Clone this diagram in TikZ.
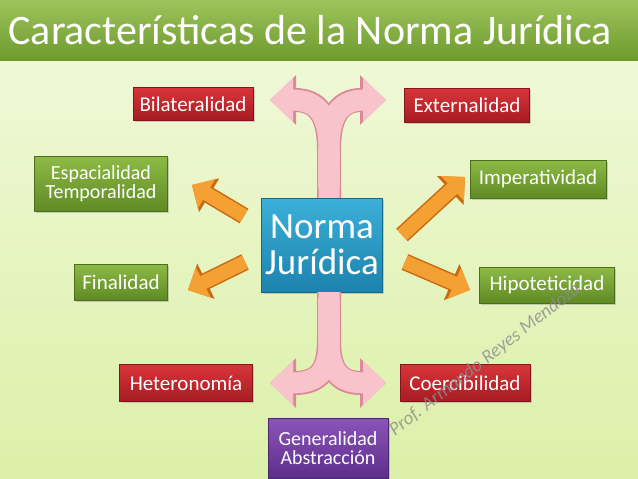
\documentclass[tikz,border=0pt]{standalone}
\usepackage{fontspec}
\setmainfont{Carlito}
\usetikzlibrary{arrows.meta,shadows}
\definecolor{bgA}{HTML}{F2F9DD}
\definecolor{bgB}{HTML}{DCF0A8}
\definecolor{titA}{HTML}{9CC45A}
\definecolor{titB}{HTML}{6E9A2E}
\definecolor{redA}{HTML}{D8353A}
\definecolor{redB}{HTML}{A51C22}
\definecolor{grnA}{HTML}{8DBA45}
\definecolor{grnB}{HTML}{5F8A24}
\definecolor{bluA}{HTML}{3BB0D8}
\definecolor{bluB}{HTML}{1C82AE}
\definecolor{purA}{HTML}{8A54B8}
\definecolor{purB}{HTML}{5E2E8C}
\definecolor{pinkF}{HTML}{F9C3CB}
\definecolor{pinkD}{HTML}{D98A96}
\definecolor{orA}{HTML}{F5A033}
\definecolor{orD}{HTML}{C86A10}
\tikzset{
 box/.style={draw=#1B!80!black,top color=#1A,bottom color=#1B,text=white,inner sep=2pt,align=center,font=\fontsize{21}{20}\selectfont,drop shadow={opacity=0.35,shadow xshift=1.5pt,shadow yshift=-1.5pt}},
 pinkO/.style={draw=pinkD,line width=24pt,-{Triangle[width=48pt,length=26pt]}},
 pinkI/.style={draw=pinkF,line width=21pt,-{Triangle[width=43pt,length=23pt]}},
 orO/.style={draw=orD,line width=17pt,-{Triangle[width=38pt,length=20pt]}},
 orI/.style={draw=orA,line width=14pt,-{Triangle[width=33pt,length=17pt]}},
}
\begin{document}
\begin{tikzpicture}[x=1pt,y=-1pt]
\useasboundingbox (0,0) rectangle (638,479);
\fill[top color=bgA,bottom color=bgB] (0,0) rectangle (638,479);
\fill[top color=titA,bottom color=titB] (0,0) rectangle (638,60);
\node[anchor=west,text=white,font=\fontsize{42}{42}\selectfont] (title) at (5,30) {Características de la Norma Jurídica};
% boxes
\node[box=red,minimum width=120pt,minimum height=33pt] (bil) at (193,104) {Bilateralidad};
\node[box=red,minimum width=125pt,minimum height=34pt] (ext) at (467,105) {Externalidad};
\node[box=grn,minimum width=133pt,minimum height=55pt,font=\fontsize{20}{19}\selectfont] (esp) at (101,184) {Espacialidad\\Temporalidad};
\node[box=grn,minimum width=136pt,minimum height=38pt] (imp) at (538,179) {Imperatividad};
\node[box=blu,minimum width=121pt,minimum height=94pt,font=\fontsize{37}{36}\selectfont] (nj) at (322,245) {Norma\\Jurídica};
\node[box=grn,minimum width=93pt,minimum height=36pt] (fin) at (121,282) {Finalidad};
\node[box=grn,minimum width=135pt,minimum height=36pt] (hip) at (547,285) {Hipoteticidad};
\node[box=red,minimum width=133pt,minimum height=37pt] (het) at (186,383) {Heteronomía};
\node[box=red,minimum width=130pt,minimum height=37pt] (coe) at (465,383) {Coercibilidad};
\node[box=pur,minimum width=120pt,minimum height=60pt,font=\fontsize{20}{19}\selectfont] (gen) at (328,448) {Generalidad\\Abstracción};
% pink Y arrows
\coordinate (tL) at (270,100); \coordinate (tR) at (386,100);
\coordinate (bL) at (270,383); \coordinate (bR) at (386,383);
\foreach \s in {pinkO,pinkI}{
 \draw[\s] (nj.north -| 329,188) -- (329,150) .. controls (329,115) and (318,100) .. (tL);
 \draw[\s] (329,150) .. controls (329,115) and (340,100) .. (tR);
 \draw[\s] (nj.south -| 329,298) -- (329,340) .. controls (329,372) and (318,383) .. (bL);
 \draw[\s] (329,340) .. controls (329,372) and (340,383) .. (bR);
}
\fill[pinkF] (318,150) rectangle (340,188);
\fill[pinkF] (318,298) rectangle (340,345);
% orange arrows
\coordinate (o1) at (244,216); \coordinate (o1e) at (192,185);
\coordinate (o2) at (245,262); \coordinate (o2e) at (188,290);
\coordinate (o3) at (402,235); \coordinate (o3e) at (465,177);
\coordinate (o4) at (405,262); \coordinate (o4e) at (470,290);
\foreach \s in {orO,orI}{
 \draw[\s] (o1) -- (o1e);
 \draw[\s] (o2) -- (o2e);
 \draw[\s] (o3) -- (o3e);
 \draw[\s] (o4) -- (o4e);
}
\node[rotate=38,text=black!45,opacity=0.8,font=\fontsize{19}{19}\selectfont\itshape] (wm) at (485,360) {Prof. Armando Reyes Mendoza};
\end{tikzpicture}
\end{document}
